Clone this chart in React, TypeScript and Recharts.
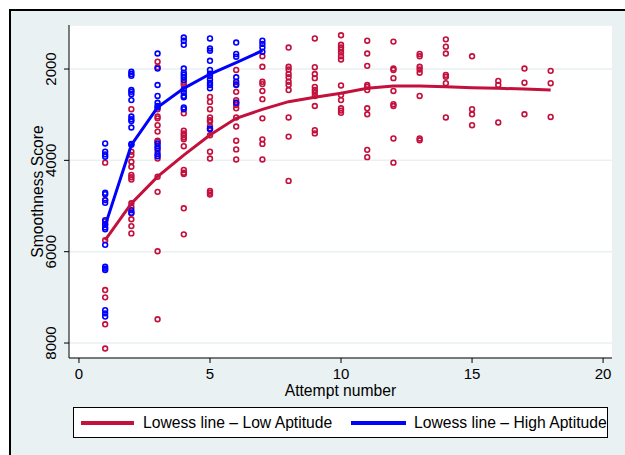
import { ComposedChart, Scatter, XAxis, YAxis, CartesianGrid } from 'recharts';

const attempts = [1, 2, 3, 4, 5, 6, 7, 8, 9, 10, 11, 12, 13, 14, 15, 16, 17, 18];

const lowScores = [
  [4050, 4870, 5340, 5400, 5750, 6840, 7000, 7590, 8120],
  [2880, 3810, 3880, 4030, 4140, 4320, 4370, 4420, 4940, 5020, 5160, 5290, 5440, 5600],
  [1840, 1960, 2880, 3040, 3080, 3230, 3370, 3570, 3590, 3790, 3960, 4360, 4690, 5990, 7480],
  [2300, 2350, 2970, 3350, 3410, 3450, 3500, 3540, 3690, 4210, 4270, 4300, 5050, 5620],
  [2610, 2720, 2880, 3060, 3120, 3150, 3250, 3450, 3810, 3960, 4670, 4710, 4750],
  [2020, 2330, 2500, 2680, 2740, 2790, 2860, 3060, 3260, 3570, 3760, 3980],
  [1720, 1950, 2280, 2330, 2480, 2660, 3080, 3540, 3640, 3980],
  [1530, 1950, 2010, 2110, 2180, 2280, 2350, 2460, 3060, 3480, 4450],
  [1330, 1960, 2110, 2200, 2390, 2460, 2520, 2590, 2810, 3340, 3410],
  [1260, 1470, 1530, 1580, 1640, 1720, 1790, 2360, 2570, 2680, 2860, 2910, 2960],
  [1380, 1660, 1930, 2350, 2390, 2460, 2860, 2990, 3770, 3930],
  [1400, 1990, 2020, 2200, 2480, 2770, 2810, 3520, 4050],
  [1670, 1720, 1950, 2010, 2080, 2590, 3520, 3560],
  [1350, 1510, 1660, 2130, 2170, 2310, 3060],
  [1720, 2880, 2990, 3230],
  [2260, 2350, 3170],
  [1990, 2300, 2990],
  [2040, 2310, 3050],
];

const highScores = [
  [3630, 3810, 3870, 3920, 4710, 4740, 4870, 4930, 5310, 5400, 5470, 5510, 5850, 6330, 6370, 6400, 7280, 7350, 7420],
  [2060, 2110, 2150, 2460, 2500, 2550, 2680, 3040, 3100, 3140, 3280, 3640, 3660, 5090, 5150],
  [1660, 1990, 2350, 2590, 2740, 2810, 2840, 3630, 3690, 3740, 3860, 3910],
  [1310, 1380, 1470, 1990, 2080, 2130, 2180, 2240, 2450, 2520, 2590, 2620, 2840, 2880],
  [1330, 1550, 1600, 1820, 2020, 2100, 2150, 2230, 2300, 2350, 2420, 3300, 3320],
  [1420, 1670, 1730, 2180, 2280, 2350, 2740],
  [1380, 1450, 1530, 1620],
];

const lowLowess = [5745, 4942, 4358, 3884, 3445, 3080, 2883, 2715, 2620, 2530, 2423, 2373, 2373, 2387, 2409, 2423, 2438, 2460];
const highLowess = [5430, 3664, 2839, 2423, 2110, 1861, 1598];

const xTicks = [0, 5, 10, 15, 20];
const yTicks = [2000, 4000, 6000, 8000];

const RED = '#c3103c';
const BLUE = '#0000ff';
const BG = '#e9f1f3';
const FONT = '"Liberation Sans", Arial, Helvetica, sans-serif';

const toPoints = (groups: number[][]) =>
  groups.flatMap((scores, i) => scores.map((s) => ({ x: attempts[i], y: s })));

const lowPoints = toPoints(lowScores);
const highPoints = toPoints(highScores);
const lowLine = lowLowess.map((y, i) => ({ x: attempts[i], y }));
const highLine = highLowess.map((y, i) => ({ x: attempts[i], y }));

const ring = (color: string) => (props: any) => (
  <circle cx={props.cx} cy={props.cy} r={2.4} fill="none" stroke={color} strokeWidth={1.6} />
);

const noDot = () => <g />;

const YTick = ({ x, y, payload }: any) => (
  <text
    x={x - 6}
    y={y}
    transform={`rotate(-90, ${x - 6}, ${y})`}
    textAnchor="middle"
    fontSize={15}
    fontFamily={FONT}
    fill="#000"
  >
    {payload.value}
  </text>
);

export default function App() {
  return (
    <div style={{ position: 'absolute', left: 0, top: 0, width: 625, height: 455, background: '#fff', overflow: 'hidden' }}>
      <div
        style={{
          position: 'absolute',
          left: 9,
          top: 9,
          width: 640,
          height: 470,
          background: BG,
          borderLeft: '2px solid #000',
          borderTop: '2px solid #000',
        }}
      />
      <div style={{ position: 'absolute', left: 0, top: 0 }}>
        <ComposedChart width={625} height={455} margin={{ top: 25, right: 13, left: 0, bottom: 47 }}>
          <CartesianGrid horizontal vertical={false} fill="#fff" stroke={BG} strokeWidth={1.5} />
          <XAxis
            type="number"
            dataKey="x"
            domain={[-0.38, 20.34]}
            ticks={xTicks}
            height={50}
            tickSize={5}
            tickMargin={5}
            stroke="#000"
            tick={{ fill: '#000', fontSize: 15, fontFamily: FONT }}
            label={{ value: 'Attempt number', position: 'insideBottom', offset: 12, fill: '#000', fontSize: 15.7, fontFamily: FONT }}
          />
          <YAxis
            type="number"
            dataKey="y"
            reversed
            domain={[1036, 8328]}
            ticks={yTicks}
            width={69}
            tickSize={5}
            stroke="#000"
            tick={<YTick />}
            label={{ value: 'Smoothness Score', angle: -90, position: 'center', dx: 3, fill: '#000', fontSize: 15.7, fontFamily: FONT }}
          />
          <Scatter data={lowPoints} fill={RED} shape={ring(RED)} isAnimationActive={false} />
          <Scatter data={highPoints} fill={BLUE} shape={ring(BLUE)} isAnimationActive={false} />
          <Scatter
            data={lowLine}
            fill={RED}
            line={{ stroke: RED, strokeWidth: 3 }}
            shape={noDot}
            isAnimationActive={false}
          />
          <Scatter
            data={highLine}
            fill={BLUE}
            line={{ stroke: BLUE, strokeWidth: 3 }}
            shape={noDot}
            isAnimationActive={false}
          />
        </ComposedChart>
      </div>
      <div
        style={{
          position: 'absolute',
          left: 73,
          top: 407,
          width: 535,
          height: 31,
          boxSizing: 'border-box',
          border: '1px solid #000',
          background: '#fff',
          fontFamily: FONT,
          fontSize: 15.7,
          color: '#000',
        }}
      >
        <div style={{ position: 'absolute', left: 7, top: 13, width: 53, height: 4, background: RED }} />
        <div style={{ position: 'absolute', left: 69, top: 0, lineHeight: '29px', whiteSpace: 'nowrap' }}>
          Lowess line – Low Aptitude
        </div>
        <div style={{ position: 'absolute', left: 277, top: 13, width: 55, height: 4, background: BLUE }} />
        <div style={{ position: 'absolute', left: 340, top: 0, lineHeight: '29px', whiteSpace: 'nowrap' }}>
          Lowess line – High Aptitude
        </div>
      </div>
    </div>
  );
}
